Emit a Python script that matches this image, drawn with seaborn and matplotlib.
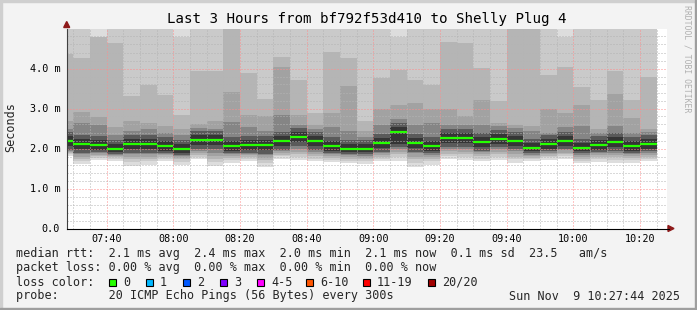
import matplotlib
matplotlib.use("Agg")
import matplotlib.pyplot as plt
import seaborn as sns
import numpy as np
import pandas as pd
from matplotlib.patches import Polygon, Rectangle
from matplotlib.lines import Line2D

# ---------------- data ----------------
axis_start = "07:28"
axis_end = "10:28"
bin_starts = ["07:28", "07:30", "07:35", "07:40", "07:45", "07:50", "07:55", "08:00", "08:05",
              "08:10", "08:15", "08:20", "08:25", "08:30", "08:35", "08:40", "08:45", "08:50",
              "08:55", "09:00", "09:05", "09:10", "09:15", "09:20", "09:25", "09:30", "09:35",
              "09:40", "09:45", "09:50", "09:55", "10:00", "10:05", "10:10", "10:15", "10:20"]
bin_end = "10:25"

# median RTT per 5-min bin (ms)
median_rtt = [2.19, 2.12, 2.09, 1.99, 2.12, 2.12, 2.07, 1.99, 2.22, 2.22, 2.07, 2.09, 2.09, 2.19,
              2.29, 2.19, 2.07, 1.99, 1.99, 2.14, 2.42, 2.14, 2.07, 2.27, 2.27, 2.17, 2.25, 2.20,
              2.02, 2.12, 2.20, 2.02, 2.10, 2.16, 2.07, 2.12]

# smoke layers (outer -> inner), lower and upper bounds in ms
smoke_lo1 = [1.82, 1.61, 1.71, 1.69, 1.57, 1.60, 1.69, 1.60, 1.73, 1.57, 1.65, 1.68, 1.55, 1.75, 1.72, 1.68, 1.66, 1.65,
             1.62, 1.68, 1.68, 1.55, 1.60, 1.73, 1.72, 1.68, 1.72, 1.65, 1.68, 1.72, 1.75, 1.64, 1.66, 1.64, 1.64, 1.68]
smoke_lo2 = [1.86, 1.69, 1.77, 1.74, 1.66, 1.68, 1.75, 1.67, 1.79, 1.67, 1.72, 1.74, 1.64, 1.81, 1.80, 1.75, 1.72, 1.70,
             1.68, 1.75, 1.78, 1.65, 1.68, 1.81, 1.80, 1.75, 1.80, 1.73, 1.73, 1.78, 1.81, 1.70, 1.73, 1.72, 1.71, 1.75]
smoke_lo3 = [1.89, 1.75, 1.81, 1.78, 1.73, 1.74, 1.79, 1.73, 1.84, 1.75, 1.77, 1.79, 1.71, 1.85, 1.86, 1.81, 1.77, 1.75,
             1.73, 1.80, 1.87, 1.73, 1.74, 1.87, 1.86, 1.81, 1.86, 1.80, 1.77, 1.82, 1.86, 1.75, 1.78, 1.78, 1.76, 1.80]
smoke_lo4 = [1.92, 1.80, 1.85, 1.81, 1.79, 1.80, 1.83, 1.77, 1.88, 1.82, 1.81, 1.83, 1.77, 1.89, 1.92, 1.86, 1.81, 1.79,
             1.77, 1.85, 1.92, 1.80, 1.79, 1.93, 1.92, 1.86, 1.92, 1.86, 1.81, 1.86, 1.90, 1.79, 1.83, 1.84, 1.81, 1.85]
smoke_lo5 = [1.95, 1.87, 1.88, 1.84, 1.86, 1.87, 1.87, 1.81, 1.94, 1.90, 1.86, 1.87, 1.84, 1.94, 1.99, 1.92, 1.86, 1.83,
             1.82, 1.90, 1.98, 1.88, 1.85, 1.99, 1.99, 1.92, 1.98, 1.93, 1.85, 1.90, 1.96, 1.84, 1.88, 1.90, 1.86, 1.90]
smoke_lo6 = [1.97, 1.90, 1.91, 1.87, 1.90, 1.90, 1.90, 1.85, 2.00, 2.00, 1.89, 1.90, 1.87, 1.97, 2.07, 1.97, 1.89, 1.87,
             1.86, 1.92, 2.04, 1.92, 1.89, 2.05, 2.05, 1.95, 2.03, 1.98, 1.88, 1.94, 1.98, 1.88, 1.92, 1.94, 1.90, 1.94]
smoke_lo7 = [2.06, 1.99, 1.96, 1.91, 1.99, 1.99, 1.94, 1.90, 2.09, 2.09, 1.94, 1.96, 1.96, 2.06, 2.16, 2.06, 1.94, 1.91,
             1.91, 2.01, 2.12, 2.01, 1.94, 2.14, 2.14, 2.04, 2.12, 2.07, 1.93, 1.99, 2.07, 1.93, 1.97, 2.03, 1.94, 1.99]

smoke_hi1 = [5.5] * 36
smoke_hi2 = [5.5, 5.5, 4.80, 5.5, 5.5, 5.5, 5.5, 4.80, 5.5, 5.5, 5.5, 5.5, 5.5, 5.5, 5.5, 5.5, 5.5, 5.5,
             5.5, 5.5, 4.80, 5.5, 5.5, 5.5, 5.5, 5.5, 5.5, 5.5, 5.5, 5.5, 4.80, 5.5, 5.5, 5.5, 5.5, 5.5]
smoke_hi3 = [4.36, 4.26, 4.78, 4.63, 3.31, 3.58, 3.33, 2.85, 3.93, 3.93, 5.5, 3.89, 3.25, 4.30, 3.72, 2.89, 4.42, 4.26,
             2.69, 3.76, 3.97, 3.72, 3.60, 4.66, 4.63, 4.01, 3.18, 5.5, 5.5, 3.85, 4.05, 3.53, 3.22, 3.93, 3.22, 3.78]
smoke_hi4 = [2.69, 2.92, 2.79, 2.54, 2.70, 2.65, 2.56, 2.50, 2.62, 2.70, 3.41, 2.85, 2.81, 4.03, 2.85, 2.60, 2.89, 3.56,
             2.45, 2.98, 3.10, 3.14, 2.98, 2.99, 2.82, 3.22, 2.65, 2.60, 2.56, 2.98, 2.89, 3.10, 2.50, 3.37, 2.77, 2.50]
smoke_hi5 = [2.50, 2.65, 2.60, 2.35, 2.44, 2.50, 2.40, 2.35, 2.52, 2.50, 2.67, 2.55, 2.45, 2.85, 2.60, 2.50, 2.55, 2.45,
             2.30, 2.60, 2.75, 2.60, 2.65, 2.58, 2.58, 2.58, 2.56, 2.52, 2.45, 2.40, 2.55, 2.56, 2.38, 2.56, 2.40, 2.42]
smoke_hi6 = [2.41, 2.34, 2.31, 2.21, 2.34, 2.34, 2.29, 2.21, 2.44, 2.44, 2.29, 2.31, 2.31, 2.41, 2.51, 2.41, 2.29, 2.21,
             2.21, 2.36, 2.64, 2.36, 2.29, 2.49, 2.49, 2.39, 2.47, 2.42, 2.24, 2.34, 2.42, 2.24, 2.32, 2.38, 2.29, 2.34]
smoke_hi7 = [2.31, 2.24, 2.21, 2.11, 2.24, 2.24, 2.19, 2.11, 2.34, 2.34, 2.19, 2.21, 2.21, 2.31, 2.41, 2.31, 2.19, 2.11,
             2.11, 2.26, 2.54, 2.26, 2.19, 2.39, 2.39, 2.29, 2.37, 2.32, 2.14, 2.24, 2.32, 2.14, 2.22, 2.28, 2.19, 2.24]

xtick_labels = ["07:40", "08:00", "08:20", "08:40", "09:00", "09:20", "09:40", "10:00", "10:20"]
ytick_values = [0, 1, 2, 3, 4]
ytick_labels = ["0.0", "1.0 m", "2.0 m", "3.0 m", "4.0 m"]

title = "Last 3 Hours from bf792f53d410 to Shelly Plug 4"
ylabel = "Seconds"
row_median = "median rtt:  2.1 ms avg  2.4 ms max  2.0 ms min  2.1 ms now  0.1 ms sd  23.5   am/s"
row_loss = "packet loss: 0.00 % avg  0.00 % max  0.00 % min  0.00 % now"
row_color = "loss color:"
loss_labels = ["0", "1", "2", "3", "4-5", "6-10", "11-19", "20/20"]
loss_colors = ["#26ff00", "#00b8ff", "#0059ff", "#7e00ff", "#ff00ff", "#ff5500", "#ff0000", "#a10000"]
row_probe = "probe:       20 ICMP Echo Pings (56 Bytes) every 300s"
stamp = "Sun Nov  9 10:27:44 2025"
watermark = "RRDTOOL / TOBI OETIKER"

# ---------------- style ----------------
sns.set_style("white")
plt.rcParams['font.family'] = ['DejaVu Sans Mono', 'DejaVu Sans']

W, H = 697, 310
fig = plt.figure(figsize=(W / 100, H / 100), dpi=100)
fig.patch.set_facecolor('#f3f3f3')


def fx(x):
    return x / W


def fy(y):
    return 1 - y / H


def tmin(s):
    h, m = s.split(":")
    h0, m0 = axis_start.split(":")
    return int(h) * 60 + int(m) - (int(h0) * 60 + int(m0))


PL, PT, PR, PB = 66.7, 28.5, 666.7, 228.5
ax = fig.add_axes([fx(PL), fy(PB), (PR - PL) / W, (PB - PT) / H])
ax.set_facecolor('white')

edges = [tmin(s) for s in bin_starts] + [tmin(bin_end)]
los = [smoke_lo1, smoke_lo2, smoke_lo3, smoke_lo4, smoke_lo5, smoke_lo6, smoke_lo7]
his = [smoke_hi1, smoke_hi2, smoke_hi3, smoke_hi4, smoke_hi5, smoke_hi6, smoke_hi7]
smoke_cols = ['#dddddd', '#cacaca', '#b5b5b5', '#a2a2a2', '#858585', '#5a5a5a', '#353535']
for lo, hi, c in zip(los, his, smoke_cols):
    ax.fill_between(edges, lo + [lo[-1]], hi + [hi[-1]], step='post', color=c,
                    lw=0, antialiased=False, zorder=1)

rows = []
for i, m in enumerate(median_rtt):
    rows.append(dict(t=edges[i], rtt=m, col=i))
    rows.append(dict(t=edges[i + 1], rtt=m, col=i))
df = pd.DataFrame(rows)
sns.lineplot(data=df, x='t', y='rtt', units='col', estimator=None, color='#26ff00',
             linewidth=1.6, ax=ax, legend=False, zorder=4, solid_capstyle='butt')

ax.set_xlim(0, tmin(axis_end))
ax.set_ylim(0, 5)
ax.set_xlabel("")
ax.set_ylabel("")

ax.set_xticks([tmin(s) for s in xtick_labels])
ax.set_xticklabels(xtick_labels)
ax.set_xticks(np.arange(tmin("07:30"), tmin(axis_end), 5), minor=True)
ax.set_yticks(ytick_values)
ax.set_yticklabels(ytick_labels)
ax.set_yticks(np.arange(0.2, 4.81, 0.2), minor=True)

ax.grid(which='major', color='#ff8c8c', linestyle=(0, (1, 2)), linewidth=0.72)
ax.grid(which='minor', color='#b4b4b4', linestyle=(0, (1, 2)), linewidth=0.72)
ax.set_axisbelow(False)

for s in ['top', 'right']:
    ax.spines[s].set_visible(False)
ax.spines['left'].set_color('#404040')
ax.spines['left'].set_linewidth(0.8)
ax.spines['bottom'].set_color('#000000')
ax.spines['bottom'].set_linewidth(0.8)
ax.spines['left'].set_zorder(5)
ax.spines['bottom'].set_zorder(5)

ax.tick_params(which='both', direction='out', length=1.5, width=0.7, color='#808080',
               labelsize=7.3, labelcolor='#000000')
ax.tick_params(axis='y', which='both', pad=3.2)
ax.tick_params(axis='x', which='both', pad=2.6)

# axis extension and arrows
fig.add_artist(Line2D([fx(PR), fx(669)], [fy(PB), fy(PB)], color='#000000', lw=0.8,
                      transform=fig.transFigure))
arrow_c = '#8e1a1a'
fig.add_artist(Polygon([(fx(PL - 3), fy(27.5)), (fx(PL + 3), fy(27.5)), (fx(PL), fy(21.5))],
                       closed=True, color=arrow_c, transform=fig.transFigure))
fig.add_artist(Polygon([(fx(668), fy(PB - 3)), (fx(668), fy(PB + 3)), (fx(674), fy(PB))],
                       closed=True, color=arrow_c, transform=fig.transFigure))

# texts
fig.text(fx(366.7), fy(19), title, ha='center', va='center', fontsize=10.2, color='#000000')
fig.text(fx(10.5), fy(127), ylabel, ha='center', va='center', rotation=90, fontsize=8.5)
fig.text(fx(687), fy(59), watermark, ha='center', va='center', rotation=270,
         fontsize=5.9, color='#b0b0b0')

fs = 8.5
fig.text(fx(16), fy(257.5), row_median, ha='left', va='baseline', fontsize=fs)
fig.text(fx(16), fy(271.5), row_loss, ha='left', va='baseline', fontsize=fs)
fig.text(fx(16), fy(285.5), row_color, ha='left', va='baseline', fontsize=fs)
label_x = [123, 160, 197, 234, 271, 320, 377, 442]
for lx, lab, c in zip(label_x, loss_labels, loss_colors):
    fig.add_artist(Rectangle((fx(lx - 14.5), fy(286)), 7.5 / W, 7.5 / H, facecolor=c,
                             edgecolor='#000000', lw=0.8, transform=fig.transFigure))
    fig.text(fx(lx), fy(285.5), lab, ha='left', va='baseline', fontsize=fs)
fig.text(fx(16), fy(299.5), row_probe, ha='left', va='baseline', fontsize=fs)
fig.text(fx(680), fy(299.5), stamp, ha='right', va='baseline', fontsize=fs)

# frame
fig.add_artist(Rectangle((0, 0), 2 / W, 1, color='#cfcfcf', transform=fig.transFigure))
fig.add_artist(Rectangle((0, 1 - 2 / H), 1, 2 / H, color='#cfcfcf', transform=fig.transFigure))
fig.add_artist(Rectangle((1 - 2 / W, 0), 2 / W, 1, color='#9e9e9e', transform=fig.transFigure))
fig.add_artist(Rectangle((0, 0), 1, 2 / H, color='#9e9e9e', transform=fig.transFigure))

fig.savefig('out.png', dpi=100, facecolor=fig.get_facecolor())
